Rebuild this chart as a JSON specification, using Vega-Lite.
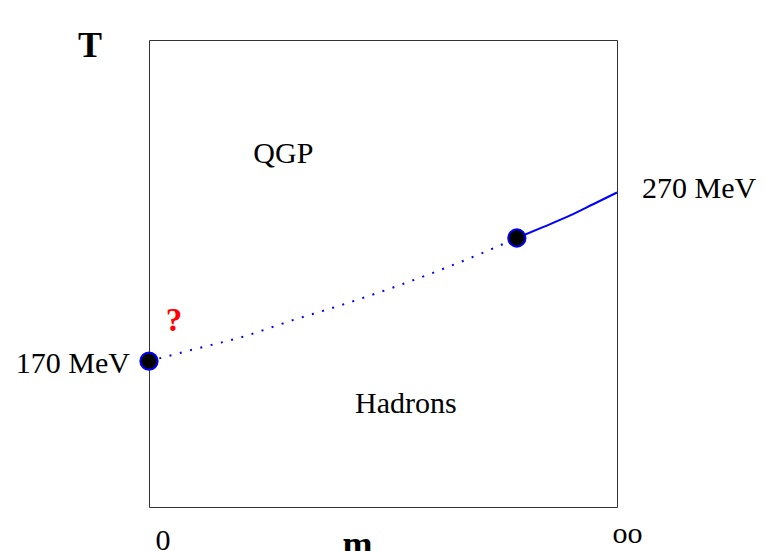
{
  "$schema": "https://vega.github.io/schema/vega-lite/v6.json",
  "autosize": {"type": "none"},
  "padding": {"left": 149, "top": 40, "right": 148, "bottom": 44},
  "width": 468,
  "height": 467,
  "background": "white",
  "config": {
    "view": {"stroke": "#333", "strokeWidth": 1},
    "font": "Liberation Serif"
  },
  "datasets": {
    "crossover": [
      {"m": 0.0, "T": 170.0},
      {"m": 0.098, "T": 177.1},
      {"m": 0.205, "T": 184.8},
      {"m": 0.301, "T": 193.7},
      {"m": 0.404, "T": 202.6},
      {"m": 0.515, "T": 213.0},
      {"m": 0.622, "T": 224.0},
      {"m": 0.707, "T": 233.5},
      {"m": 0.786, "T": 243.0}
    ],
    "firstOrder": [
      {"m": 0.786, "T": 243.0},
      {"m": 0.843, "T": 249.6},
      {"m": 0.9, "T": 256.4},
      {"m": 0.95, "T": 263.2},
      {"m": 1.0, "T": 270.0}
    ],
    "endpoints": [
      {"m": 0.0, "T": 170.0},
      {"m": 0.786, "T": 243.0}
    ],
    "labels": [
      {"m": 0.287, "T": 287.5, "text": "QGP"},
      {"m": 0.549, "T": 139.1, "text": "Hadrons"},
      {"m": 0.03, "T": 57.8, "text": "0"},
      {"m": 1.0224, "T": 62.0, "text": "oo"}
    ]
  },
  "encoding": {
    "x": {"field": "m", "type": "quantitative", "scale": {"domain": [0, 1], "nice": false, "zero": false}, "axis": null},
    "y": {"field": "T", "type": "quantitative", "scale": {"domain": [83.4, 360.5], "nice": false, "zero": false}, "axis": null}
  },
  "layer": [
    {
      "data": {"name": "crossover"},
      "mark": {"type": "line", "color": "#0000ff", "strokeWidth": 2, "strokeDash": [2, 8.6], "strokeCap": "butt", "interpolate": "monotone"}
    },
    {
      "data": {"name": "firstOrder"},
      "mark": {"type": "line", "color": "#0000ff", "strokeWidth": 2, "interpolate": "monotone"}
    },
    {
      "data": {"name": "endpoints"},
      "mark": {"type": "point", "shape": "circle", "filled": true, "fill": "black", "stroke": "#0000ff", "strokeWidth": 2, "size": 300, "opacity": 1}
    },
    {
      "data": {"name": "labels"},
      "mark": {"type": "text", "fontSize": 30, "align": "center", "baseline": "alphabetic", "color": "black"},
      "encoding": {"text": {"field": "text"}}
    },
    {
      "data": {"values": [{"m": -0.0406, "T": 162.9, "text": "170 MeV"}]},
      "mark": {"type": "text", "fontSize": 30, "align": "right", "baseline": "alphabetic", "color": "black"},
      "encoding": {"text": {"field": "text"}}
    },
    {
      "data": {"values": [{"m": 1.0534, "T": 266.7, "text": "270 MeV"}]},
      "mark": {"type": "text", "fontSize": 30, "align": "left", "baseline": "alphabetic", "color": "black"},
      "encoding": {"text": {"field": "text"}}
    },
    {
      "data": {"values": [{"m": -0.126, "T": 350.4, "text": "T"}, {"m": 0.4455, "T": 54.3, "text": "m"}]},
      "mark": {"type": "text", "fontSize": 36, "fontWeight": "bold", "align": "center", "baseline": "alphabetic", "color": "black"},
      "encoding": {"text": {"field": "text"}}
    },
    {
      "data": {"values": [{"m": 0.0534, "T": 187.8, "text": "?"}]},
      "mark": {"type": "text", "fontSize": 33, "fontWeight": "bold", "align": "center", "baseline": "alphabetic", "color": "#ff0000"},
      "encoding": {"text": {"field": "text"}}
    }
  ]
}
